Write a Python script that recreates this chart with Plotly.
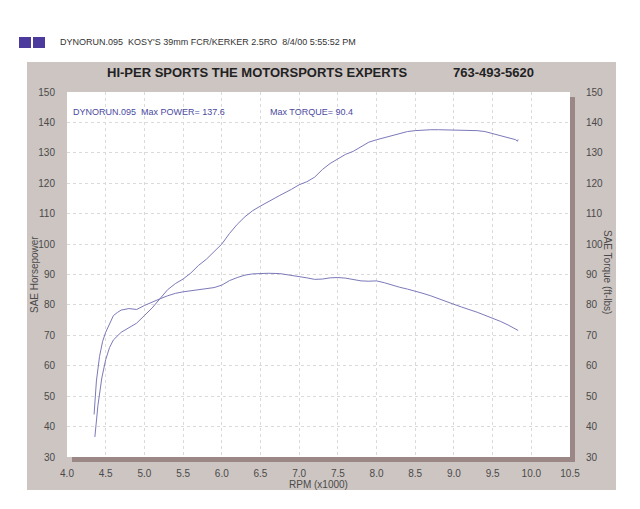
import plotly.graph_objects as go

# ---------------- data ----------------
rpm_hp = [4.36, 4.40, 4.45, 4.50, 4.55, 4.60, 4.70, 4.80, 4.90, 5.00, 5.10, 5.20, 5.30,
          5.40, 5.50, 5.60, 5.70, 5.80, 5.90, 6.00, 6.10, 6.20, 6.30, 6.40, 6.50, 6.60,
          6.75, 6.90, 7.00, 7.10, 7.20, 7.30, 7.40, 7.50, 7.60, 7.70, 7.80, 7.90, 8.00,
          8.10, 8.20, 8.30, 8.40, 8.50, 8.60, 8.70, 8.80, 9.00, 9.20, 9.30, 9.40, 9.50,
          9.60, 9.70, 9.80, 9.82, 9.83]
hp = [36.6, 47.0, 56.0, 62.0, 66.0, 68.5, 71.0, 72.5, 74.0, 76.5, 79.0, 82.0, 85.0,
      87.0, 88.5, 90.5, 93.0, 95.0, 97.5, 100.0, 103.5, 106.5, 109.0, 111.0, 112.5, 114.0,
      116.0, 118.0, 119.5, 120.5, 122.0, 124.5, 126.5, 128.0, 129.5, 130.5, 132.0, 133.5, 134.3,
      135.0, 135.8, 136.5, 137.0, 137.3, 137.5, 137.6, 137.6, 137.5, 137.4, 137.3, 137.0, 136.3,
      135.6, 135.0, 134.3, 133.8, 134.4]

rpm_tq = [4.35, 4.38, 4.42, 4.46, 4.50, 4.55, 4.60, 4.65, 4.70, 4.80, 4.90, 5.00, 5.10,
          5.20, 5.30, 5.40, 5.50, 5.60, 5.70, 5.80, 5.90, 6.00, 6.10, 6.20, 6.30, 6.40,
          6.50, 6.60, 6.75, 6.90, 7.00, 7.10, 7.20, 7.30, 7.40, 7.50, 7.60, 7.70, 7.80,
          7.90, 8.00, 8.10, 8.20, 8.30, 8.40, 8.50, 8.60, 8.70, 8.80, 8.90, 9.00, 9.10,
          9.20, 9.30, 9.40, 9.50, 9.60, 9.70, 9.80, 9.83]
torque = [44.0, 55.0, 63.0, 68.0, 71.0, 74.0, 76.5, 77.5, 78.3, 78.8, 78.5, 79.8, 81.0,
          82.0, 83.0, 83.8, 84.3, 84.6, 85.0, 85.4, 85.7, 86.5, 88.0, 89.0, 89.8, 90.2,
          90.4, 90.4, 90.3, 89.8, 89.4, 88.9, 88.4, 88.5, 88.9, 89.0, 88.8, 88.4, 87.9,
          87.8, 87.9, 87.3, 86.5, 85.8, 85.2, 84.6, 83.8, 83.0, 82.0, 81.0, 80.2, 79.3,
          78.5, 77.6, 76.6, 75.7, 74.6, 73.4, 72.0, 71.6]

x_ticks = [4.0, 4.5, 5.0, 5.5, 6.0, 6.5, 7.0, 7.5, 8.0, 8.5, 9.0, 9.5, 10.0, 10.5]
y_ticks = [30, 40, 50, 60, 70, 80, 90, 100, 110, 120, 130, 140, 150]

header_text = "DYNORUN.095  KOSY'S 39mm FCR/KERKER 2.5RO  8/4/00 5:55:52 PM"
title_text = "HI-PER SPORTS THE MOTORSPORTS EXPERTS"
phone_text = "763-493-5620"
legend_power = "DYNORUN.095  Max POWER= 137.6"
legend_torque = "Max TORQUE= 90.4"

# ---------------- layout geometry (page pixels) ----------------
OFF = 8                      # page body margin
W, H = 640 - 2 * OFF, 509 - 2 * OFF
PL, PR, PT, PB = 67, 570, 92, 457  # plot area in page pixels
PW, PH = PR - PL, PB - PT


def px(x):
    return (x - PL) / PW


def py(y):
    return (PB - y) / PH


FONT = "Liberation Sans, Arial, sans-serif"
LINE = "#7b79b9"
FRAME = "#cdc5c2"
SHADOW = "#9c8787"
TXT = "#4a4a4a"

fig = go.Figure()
fig.add_trace(go.Scatter(x=rpm_hp, y=hp, mode="lines", line=dict(color=LINE, width=1),
                         name="Power", yaxis="y"))
fig.add_trace(go.Scatter(x=rpm_tq, y=torque, mode="lines", line=dict(color=LINE, width=1),
                         name="Torque", yaxis="y2"))

grid = dict(showgrid=True, gridcolor="#dadada", griddash="dot", gridwidth=1, zeroline=False,
            showline=False)

fig.update_layout(
    width=W, height=H,
    margin=dict(l=PL - OFF, r=(W + OFF) - PR, t=PT - OFF, b=(H + OFF) - PB, pad=0),
    paper_bgcolor="white", plot_bgcolor="white",
    showlegend=False,
    font=dict(family=FONT, size=10, color=TXT),
    xaxis=dict(range=[4.0, 10.5], tickvals=x_ticks, ticktext=[f"{v:.1f}" for v in x_ticks],
               ticks="outside", ticklen=7, tickcolor="rgba(0,0,0,0)",
               tickfont=dict(size=10, color=TXT), **grid),
    yaxis=dict(range=[30, 150], tickvals=y_ticks, ticks="outside", ticklen=9,
               tickcolor="rgba(0,0,0,0)", tickfont=dict(size=10, color=TXT), **grid),
    yaxis2=dict(range=[30, 150], tickvals=y_ticks, overlaying="y", side="right",
                ticks="outside", ticklen=13, tickcolor="rgba(0,0,0,0)",
                tickfont=dict(size=10, color=TXT), showgrid=False, zeroline=False,
                showline=False),
)

shapes = [
    # outer frame
    dict(type="rect", xref="paper", yref="paper", layer="below",
         x0=px(27), x1=px(616), y0=py(490), y1=py(62), fillcolor=FRAME, line_width=0),
    # shadow right
    dict(type="rect", xref="paper", yref="paper", layer="below",
         x0=px(570), x1=px(575), y0=py(462), y1=py(97), fillcolor=SHADOW, line_width=0),
    # shadow bottom
    dict(type="rect", xref="paper", yref="paper", layer="below",
         x0=px(72), x1=px(575), y0=py(462), y1=py(457), fillcolor=SHADOW, line_width=0),
    # white plot face
    dict(type="rect", xref="paper", yref="paper", layer="below",
         x0=0, x1=1, y0=0, y1=1, fillcolor="white", line_width=0),
    # header squares
    dict(type="rect", xref="paper", yref="paper", layer="above",
         x0=px(19), x1=px(31), y0=py(48), y1=py(37), fillcolor="#4c3a9c", line_width=0),
    dict(type="rect", xref="paper", yref="paper", layer="above",
         x0=px(33), x1=px(45), y0=py(48), y1=py(37), fillcolor="#4c3a9c", line_width=0),
]
fig.update_layout(shapes=shapes)

ann = [
    dict(text=header_text, x=px(58), y=py(42), xanchor="left", yanchor="middle",
         font=dict(size=9, color="#333333")),
    dict(text="<b>" + title_text + "</b>", x=px(257), y=py(72), xanchor="center",
         yanchor="middle", font=dict(size=13, color="#222222")),
    dict(text="<b>" + phone_text + "</b>", x=px(493), y=py(72), xanchor="center",
         yanchor="middle", font=dict(size=13, color="#222222")),
    dict(text=legend_power, x=px(71), y=py(112), xanchor="left", yanchor="middle",
         font=dict(size=9, color="#4b4aa0")),
    dict(text=legend_torque, x=px(268), y=py(112), xanchor="left", yanchor="middle",
         font=dict(size=9, color="#4b4aa0")),
    dict(text="SAE Horsepower", x=px(34), y=py(275), textangle=-90, xanchor="center",
         yanchor="middle", font=dict(size=10, color=TXT)),
    dict(text="SAE Torque (ft-lbs)", x=px(608), y=py(272), textangle=90, xanchor="center",
         yanchor="middle", font=dict(size=10, color=TXT)),
    dict(text="RPM (x1000)", x=px(318), y=py(485), xanchor="center", yanchor="middle",
         font=dict(size=10, color=TXT)),
]
for a in ann:
    a.update(xref="paper", yref="paper", showarrow=False)
fig.update_layout(annotations=ann)

fig.write_html("out.html")
